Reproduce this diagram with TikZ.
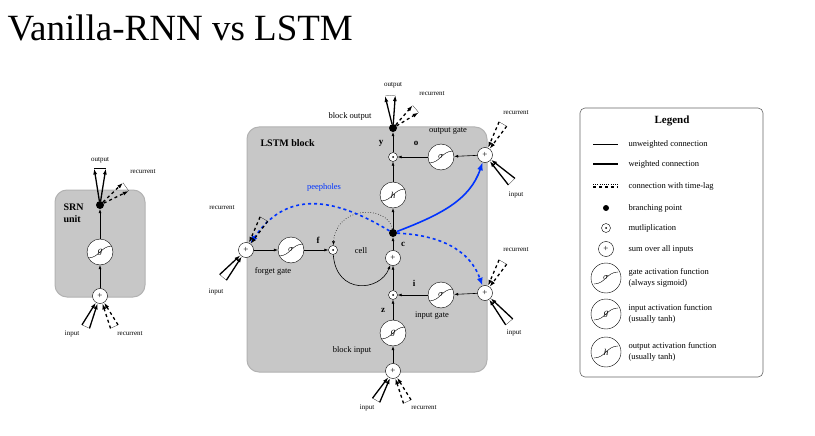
\documentclass[tikz,border=0pt]{standalone}
\usepackage{fontspec}
\setmainfont{Liberation Serif}
\usetikzlibrary{arrows.meta,calc}
\begin{document}
\begin{tikzpicture}[x=1pt,y=-1pt,
 box/.style={fill=black!22,rounded corners=12pt,draw=black!30,line width=1pt},
 act/.style={circle,draw,fill=white,minimum size=26pt,inner sep=0pt,font=\itshape\small},
 lact/.style={act,minimum size=30pt},
 pls/.style={circle,draw,fill=white,minimum size=15pt,inner sep=0pt,font=\small},
 mul/.style={circle,draw,fill=white,minimum size=9pt,inner sep=0pt},
 dot/.style={circle,fill=black,minimum size=8pt,inner sep=0pt},
 lbl/.style={font=\fontsize{7}{8}\selectfont},
 glbl/.style={font=\fontsize{8.5}{9}\selectfont},
 leg/.style={font=\fontsize{8.5}{11}\selectfont,anchor=west,align=left},
 var/.style={font=\bfseries\small},
 con/.style={-{Latex[length=4pt,width=3pt]},semithick},
 wt/.style={line width=1.3pt},
 peep/.style={draw=blue!80!cyan,line width=1.6pt,-{Latex[length=8pt,width=6pt]}}]
\useasboundingbox (0,0) rectangle (815,436);
\fill[white] (0,0) rectangle (815,436);
\newcommand\inb[4]{%
 \draw[wt,#3,-{Latex[length=6pt,width=4pt]}] ($(#1)+(#2-7:#4)$) -- (#1);
 \draw[wt,#3,-{Latex[length=6pt,width=4pt]}] ($(#1)+(#2+7:#4)$) -- (#1);
 \draw[very thin] ($(#1)+(#2-7:#4)$) -- ($(#1)+(#2+7:#4)$);}
\newcommand\outb[4]{%
 \draw[wt,#3,-{Latex[length=6pt,width=4pt]}] (#1) -- ($(#1)+(#2-9:#4)$);
 \draw[wt,#3,-{Latex[length=6pt,width=4pt]}] (#1) -- ($(#1)+(#2+9:#4)$);
 \draw[very thin] ($(#1)+(#2-9:#4)$) -- ($(#1)+(#2+9:#4)$);}
\newcommand\sig[1]{\draw[thin] ($(#1)+(-12,6)$) .. controls ($(#1)+(-1,6)$) and ($(#1)+(1,-6)$) .. ($(#1)+(12,-6)$);}
\node[anchor=west,font=\fontsize{37}{40}\selectfont] (title) at (4,28) {Vanilla-RNN vs LSTM};
% SRN
\draw[box] (55,190) rectangle (145,297);
\node[anchor=north west,align=left,font=\bfseries\fontsize{10}{12}\selectfont] (srnl) at (60,200) {SRN\\unit};
\node[pls] (sp) at (100,296) {+};
\node[act] (sg) at (100,252) {}; \sig{sg} \node[font=\itshape\small] at (sg) {g};
\node[dot] (sd) at (100,205) {};
\draw[con] (sp) -- (sg); \draw[con] (sg) -- (sd);
\inb{sp}{115}{}{34}\inb{sp}{65}{dashed}{34}
\outb{sd}{-90}{}{37}\outb{sd}{-35}{dashed}{32}
\node[lbl] (sl1) at (100,160) {output}; \node[lbl] (sl2) at (143,172) {recurrent};
\node[lbl] (sl3) at (72,334) {input}; \node[lbl] (sl4) at (130,334) {recurrent};
% LSTM
\draw[box] (247,127) rectangle (487,372);
\node[anchor=west,font=\bfseries\fontsize{10}{11}\selectfont] (lb) at (257,143) {LSTM block};
\node[dot] (bo) at (393,128) {};
\node[mul] (mo) at (393,157) {}; \fill (mo) circle (1pt);
\node[act] (og) at (441,157) {}; \sig{og} \node[font=\itshape\small] at (og) {$\sigma$};
\node[pls] (op) at (485,155) {+};
\node[act] (hh) at (393,195) {}; \sig{hh} \node[font=\itshape\small] at (hh) {h};
\node[dot] (cd) at (393,233) {};
\node[pls] (cp) at (393,258) {+};
\node[mul] (mf) at (333,250) {}; \fill (mf) circle (1pt);
\node[act] (fg) at (291,250) {}; \sig{fg} \node[font=\itshape\small] at (fg) {$\sigma$};
\node[pls] (fp) at (246,250) {+};
\node[mul] (mi) at (393,295) {}; \fill (mi) circle (1pt);
\node[act] (ig) at (441,295) {}; \sig{ig} \node[font=\itshape\small] at (ig) {$\sigma$};
\node[pls] (ip) at (485,293) {+};
\node[act] (bi) at (393,333) {}; \sig{bi} \node[font=\itshape\small] at (bi) {g};
\node[pls] (bp) at (393,371) {+};
% connections
\draw[con] (bp) -- (bi); \draw[con] (bi) -- (mi); \draw[con] (mi) -- (cp);
\draw[con] (cp) -- (cd); \draw[con] (cd) -- (hh); \draw[con] (hh) -- (mo); \draw[con] (mo) -- (bo);
\draw[con] (op) -- (og); \draw[con] (og) -- (mo);
\draw[con] (ip) -- (ig); \draw[con] (ig) -- (mi);
\draw[con] (fp) -- (fg); \draw[con] (fg) -- (mf);
\draw[con,dotted] (cd) .. controls (388,205) and (336,205) .. (mf);
\draw[con] (mf) .. controls (336,295) and (380,292) .. (cp);
% peepholes
\draw[peep,dashed] (cd) .. controls (330,195) and (285,192) .. (fp);
\draw[peep] (cd) .. controls (440,215) and (470,200) .. (op);
\draw[peep,dashed] (cd) .. controls (440,235) and (470,250) .. (ip);
\node[font=\fontsize{8.5}{9}\selectfont,text=blue!80!cyan] (pl) at (324,187) {peepholes};
% bundles
\inb{fp}{-60}{dashed}{36}\inb{fp}{130}{}{36}
\inb{op}{-60}{dashed}{36}\inb{op}{45}{}{38}
\inb{ip}{-60}{dashed}{36}\inb{ip}{50}{}{38}
\inb{bp}{120}{}{34}\inb{bp}{65}{dashed}{34}
\outb{bo}{-95}{}{33}\outb{bo}{-40}{dashed}{30}
% labels
\node[lbl] (t1) at (393,85) {output}; \node[lbl] (t2) at (432,94) {recurrent};
\node[glbl] (t3) at (350,116) {block output};
\node[var] (ty) at (381,143) {y}; \node[var] (to) at (416,143) {o};
\node[glbl] (t4) at (448,131) {output gate};
\node[lbl] (t5) at (516,113) {recurrent}; \node[lbl] (t6) at (516,195) {input};
\node[var] (tc) at (403,244) {c}; \node[glbl] (t7) at (361,251) {cell};
\node[var] (tf) at (318,240) {f};
\node[glbl] (t8) at (273,271) {forget gate};
\node[lbl] (t9) at (222,208) {recurrent}; \node[lbl] (t10) at (216,292) {input};
\node[var] (ti) at (414,283) {i};
\node[glbl] (t11) at (432,316) {input gate};
\node[lbl] (t12) at (516,250) {recurrent}; \node[lbl] (t13) at (514,333) {input};
\node[var] (tz) at (383,310) {z};
\node[glbl] (t14) at (352,350) {block input};
\node[lbl] (t15) at (367,408) {input}; \node[lbl] (t16) at (424,408) {recurrent};
% legend
\draw[rounded corners=5pt,draw=black!60,semithick] (580,108) rectangle (763,377);
\node[font=\bfseries\fontsize{11}{12}\selectfont] (lg) at (672,121) {Legend};
\draw[thin] (593,144) -- (618,144); \node[leg] (l1) at (625,144) {unweighted connection};
\draw[line width=1.5pt] (593,164) -- (618,164); \node[leg] (l2) at (625,164) {weighted connection};
\draw[very thin,dotted] (593,184) -- (618,184); \draw[line width=1.5pt,dashed] (593,187) -- (618,187);
\node[leg] (l3) at (625,186) {connection with time-lag};
\node[dot,minimum size=6pt] (ld) at (606,208) {}; \node[leg] (l4) at (625,208) {branching point};
\node[mul] (lm) at (606,228) {}; \fill (lm) circle (1pt); \node[leg] (l5) at (625,228) {mutliplication};
\node[pls] (lp) at (606,249) {+}; \node[leg] (l6) at (625,249) {sum over all inputs};
\node[lact] (la1) at (606,278) {}; \sig{la1} \node[font=\itshape\small] at (la1) {$\sigma$};
\node[leg] (l7) at (625,278) {gate activation function\\(always sigmoid)};
\node[lact] (la2) at (606,314) {}; \sig{la2} \node[font=\itshape\small] at (la2) {g};
\node[leg] (l8) at (625,314) {input activation function\\(usually tanh)};
\node[lact] (la3) at (606,352) {}; \sig{la3} \node[font=\itshape\small] at (la3) {h};
\node[leg] (l9) at (625,352) {output activation function\\(usually tanh)};
\end{tikzpicture}
\end{document}
